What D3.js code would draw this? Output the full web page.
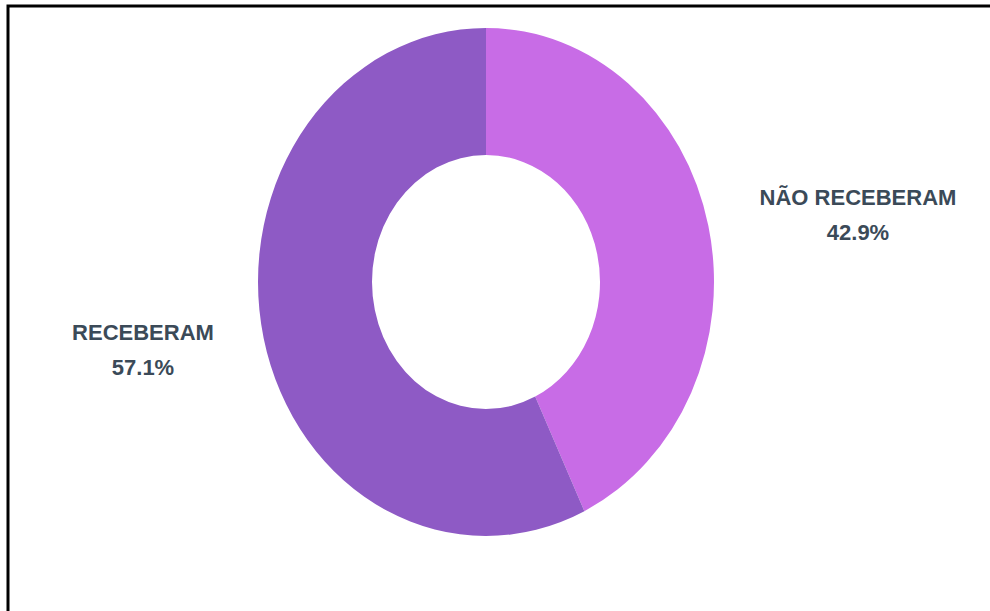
<!DOCTYPE html>
<html>
<head>
<meta charset="utf-8">
<script src="https://cdn.jsdelivr.net/npm/d3@7"></script>
<style>
  html, body { margin: 0; padding: 0; background: #fff; }
  svg { display: block; }
  text { font-family: "Liberation Sans", Arial, sans-serif; font-weight: bold; fill: #3b4a58; }
</style>
</head>
<body>
<svg id="chart" width="990" height="611"></svg>
<script>
// Share of respondents, in drawing order (clockwise from 12 o'clock)
const categories = ["NÃO RECEBERAM", "RECEBERAM"];
const values = [42.9, 57.1];
const colors = ["#c86ce6", "#8e5ac5"];

const W = 990, H = 611;
const svg = d3.select("#chart");

// Frame: top and left rules
svg.append("path")
  .attr("d", `M8,${H} V6 H${W}`)
  .attr("fill", "none")
  .attr("stroke", "#000")
  .attr("stroke-width", 3);

const cx = 486, cy = 282;
const outerR = 254, innerR = 127;
const xScale = 228 / 254; // the ring is drawn slightly narrower than tall

const pie = d3.pie().sort(null).value(d => d)(values);
const arc = d3.arc().innerRadius(innerR).outerRadius(outerR);

const ring = svg.append("g")
  .attr("transform", `translate(${cx},${cy}) scale(${xScale},1)`);

ring.selectAll("path")
  .data(pie)
  .join("path")
  .attr("d", arc)
  .attr("fill", (d, i) => colors[i]);

// Labels beside each slice
const labelPos = [
  { x: 858, y: 205 },
  { x: 143, y: 340 }
];

const labels = svg.append("g");
categories.forEach((c, i) => {
  const t = labels.append("text")
    .attr("x", labelPos[i].x)
    .attr("y", labelPos[i].y)
    .attr("text-anchor", "middle")
    .style("font-size", "22px");
  t.append("tspan").attr("x", labelPos[i].x).text(c);
  t.append("tspan").attr("x", labelPos[i].x).attr("dy", 35).text(values[i].toFixed(1) + "%");
});
</script>
</body>
</html>
